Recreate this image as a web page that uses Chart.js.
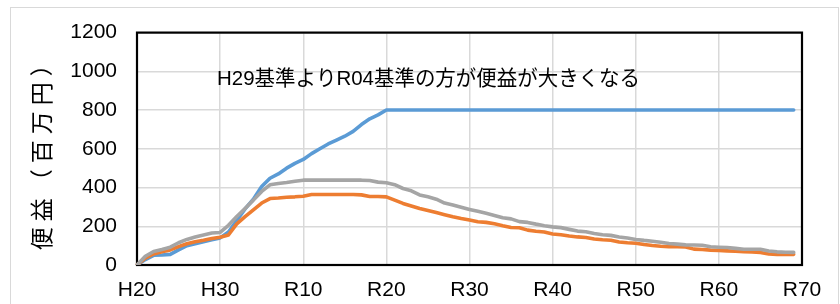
<!DOCTYPE html>
<html><head><meta charset="utf-8">
<script src="https://cdn.jsdelivr.net/npm/chart.js@4/dist/chart.umd.min.js"></script>
<style>html,body{margin:0;padding:0;background:#fff}#wrap{width:840px;height:304px;position:relative}</style>
</head><body><div id="wrap"><canvas id="c" width="840" height="304"></canvas></div>
<script>
const categories = ["H20","H21","H22","H23","H24","H25","H26","H27","H28","H29","H30",
"R01","R02","R03","R04","R05","R06","R07","R08","R09","R10",
"R11","R12","R13","R14","R15","R16","R17","R18","R19","R20",
"R21","R22","R23","R24","R25","R26","R27","R28","R29","R30",
"R31","R32","R33","R34","R35","R36","R37","R38","R39","R40",
"R41","R42","R43","R44","R45","R46","R47","R48","R49","R50",
"R51","R52","R53","R54","R55","R56","R57","R58","R59","R60",
"R61","R62","R63","R64","R65","R66","R67","R68","R69","R70"];
const tickLabelEvery = 10;
const yMin = 0, yMax = 1200, yStep = 200;
const seriesNames = ["R04基準", "H29基準", "比較"];
const seriesBlue = [0,28,50,52,55,78,100,110,120,130,
140,170,230,290,340,405,448,470,500,525,
545,575,600,625,645,665,690,725,755,775,
800,800,800,800,800,800,800,800,800,800,
800,800,800,800,800,800,800,800,800,800,
800,800,800,800,800,800,800,800,800,800,
800,800,800,800,800,800,800,800,800,800,
800,800,800,800,800,800,800,800,800,800];
const seriesOrange = [0,35,57,68,78,95,110,120,128,137,
143,155,212,250,285,320,343,346,350,352,
355,364,364,364,364,364,364,362,354,354,
352,335,318,305,292,282,271,260,249,240,
232,223,220,213,203,194,192,180,174,170,
160,156,150,145,142,134,130,128,119,115,
112,106,101,97,94,94,93,82,80,77,
75,73,71,69,68,65,57,55,55,55];
const seriesGray = [0,45,70,80,92,115,132,145,155,165,
168,205,250,292,335,380,414,421,426,432,
438,438,438,438,438,438,438,438,436,428,
425,415,395,383,362,352,340,320,310,298,
287,277,267,256,244,238,224,220,211,203,
197,193,184,175,172,163,156,153,145,139,
132,127,123,117,111,108,104,103,102,94,
92,90,86,81,81,81,72,68,66,65];
const yAxisTitle = "便益（百万円）";
const annotationText = "H29基準よりR04基準の方が便益が大きくなる";

const LATIN = "'Liberation Sans',Arial,sans-serif";
const CJK = "'Liberation Sans','Noto Sans CJK JP',sans-serif";

const bgPlugin = {
  id: 'bg',
  beforeDraw(chart) {
    const ctx = chart.ctx;
    ctx.save();
    ctx.fillStyle = '#fff';
    ctx.fillRect(0, 0, chart.width, chart.height);
    ctx.strokeStyle = '#d9d9d9';
    ctx.lineWidth = 1;
    ctx.strokeRect(10.5, 7.5, 828, 320);
    ctx.restore();
  }
};
const framePlugin = {
  id: 'frame',
  beforeDatasetsDraw(chart) {
    const {ctx, chartArea: a} = chart;
    ctx.save();
    ctx.strokeStyle = '#000';
    ctx.lineWidth = 2.2;
    ctx.strokeRect(a.left, a.top, a.right - a.left, a.bottom - a.top);
    ctx.restore();
  }
};
const notePlugin = {
  id: 'note',
  afterDatasetsDraw(chart) {
    const ctx = chart.ctx;
    ctx.save();
    ctx.fillStyle = '#000';
    ctx.font = "21px " + CJK;
    ctx.textBaseline = 'alphabetic';
    ctx.textAlign = 'left';
    ctx.fillText(annotationText, 217, 85, 423);
    ctx.restore();
  }
};
const titleSpacingPlugin = {
  id: 'titleSpacing',
  afterLayout(chart) {
    const s = chart.scales.y;
    if (s && !s.__wrapped) {
      const orig = s.drawTitle;
      s.drawTitle = function() {
        const ctx = this.ctx;
        ctx.save();
        try { ctx.letterSpacing = '6px'; } catch (e) {}
        orig.apply(this, arguments);
        ctx.restore();
      };
      s.__wrapped = true;
    }
  }
};

new Chart(document.getElementById('c'), {
  type: 'line',
  data: {
    labels: categories,
    datasets: [
      {label: seriesNames[0], data: seriesBlue, borderColor: '#5B9BD5', order: 2},
      {label: seriesNames[1], data: seriesOrange, borderColor: '#ED7D31', order: 1},
      {label: seriesNames[2], data: seriesGray, borderColor: '#A5A5A5', order: 0}
    ]
  },
  options: {
    responsive: false,
    animation: false,
    devicePixelRatio: 1,
    layout: {padding: {left: 27, right: 38, top: 32, bottom: 0}},
    elements: {
      point: {radius: 0, hoverRadius: 0},
      line: {borderWidth: 3.6, tension: 0, borderCapStyle: 'round', borderJoinStyle: 'round', fill: false}
    },
    plugins: {legend: {display: false}, tooltip: {enabled: false}, title: {display: false}},
    scales: {
      x: {
        type: 'category',
        offset: false,
        afterFit(s) { s.height = 39; },
        border: {display: false},
        grid: {color: '#d9d9d9', lineWidth: 1.5, drawTicks: false},
        ticks: {
          autoSkip: false, maxRotation: 0, minRotation: 0, padding: 13,
          color: '#000', font: {family: LATIN, size: 21},
          callback(v, i) { return i % tickLabelEvery === 0 ? categories[i] : null; }
        }
      },
      y: {
        min: yMin, max: yMax,
        afterFit(s) { s.width = 110; },
        border: {display: false},
        grid: {color: '#d9d9d9', lineWidth: 1.5, drawTicks: false},
        ticks: {stepSize: yStep, padding: 20, color: '#000', font: {family: LATIN, size: 21},
                callback(v) { return String(v); }},
        title: {display: true, text: yAxisTitle, color: '#000', padding: {top: 0, bottom: 0},
                font: {family: "'Noto Sans CJK JP',sans-serif", size: 23, lineHeight: 1.2}}
      }
    }
  },
  plugins: [bgPlugin, framePlugin, notePlugin, titleSpacingPlugin]
});
</script></body></html>
